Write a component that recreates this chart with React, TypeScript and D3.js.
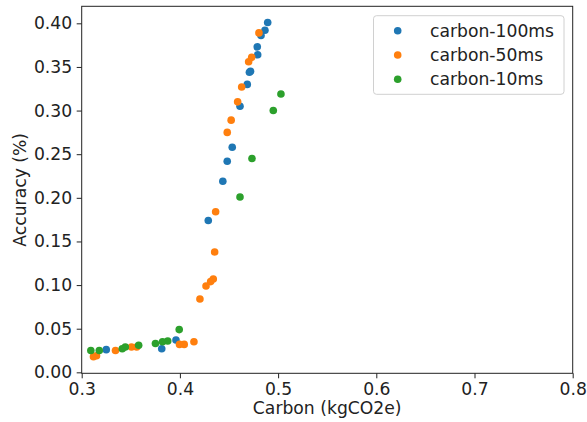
import React, { useEffect, useRef } from 'react';
import * as d3 from 'd3';

const seriesNames = ['carbon-100ms', 'carbon-50ms', 'carbon-10ms'];
const seriesColors = ['#1f77b4', '#ff7f0e', '#2ca02c'];

// carbon (kgCO2e), accuracy
const carbon100X = [0.4894, 0.4866, 0.4826, 0.4788, 0.4792, 0.4719, 0.4708, 0.4686, 0.4612, 0.4533, 0.4482, 0.4437, 0.4289, 0.3815, 0.396, 0.325];
const carbon100Y = [0.401, 0.392, 0.386, 0.373, 0.364, 0.345, 0.344, 0.330, 0.305, 0.258, 0.242, 0.219, 0.174, 0.027, 0.037, 0.026];

const carbon50X = [0.4805, 0.4731, 0.47, 0.4629, 0.4588, 0.4522, 0.4482, 0.4364, 0.4354, 0.434, 0.4313, 0.4266, 0.4204, 0.4143, 0.4044, 0.3996, 0.356, 0.3507, 0.3344, 0.3151, 0.312];
const carbon50Y = [0.389, 0.361, 0.356, 0.327, 0.310, 0.289, 0.275, 0.184, 0.138, 0.107, 0.104, 0.099, 0.084, 0.035, 0.032, 0.032, 0.029, 0.029, 0.025, 0.019, 0.018];

const carbon10X = [0.5029, 0.4951, 0.4734, 0.4612, 0.3993, 0.3876, 0.3823, 0.3751, 0.358, 0.3444, 0.3413, 0.3179, 0.3093];
const carbon10Y = [0.319, 0.300, 0.245, 0.201, 0.049, 0.036, 0.035, 0.033, 0.031, 0.029, 0.027, 0.025, 0.025];

const xTicks = [0.3, 0.4, 0.5, 0.6, 0.7, 0.8];
const yTicks = [0, 0.05, 0.1, 0.15, 0.2, 0.25, 0.3, 0.35, 0.4];

const seriesX = [carbon100X, carbon50X, carbon10X];
const seriesY = [carbon100Y, carbon50Y, carbon10Y];

const W = 587;
const H = 422;
const font = 'DejaVu Sans';
const fs = 17.2;

export default function App() {
  const ref = useRef<SVGSVGElement>(null);

  useEffect(() => {
    const svg = d3.select(ref.current);
    svg.selectAll('*').remove();

    const left = 81.7, right = 572.7, top = 6.3, bottom = 373.3;
    const x = d3.scaleLinear().domain([0.3, 0.8]).range([left, right]);
    const y = d3.scaleLinear().domain([-0.0011, 0.4195]).range([bottom, top]);

    const xAxis = svg.append('g').attr('transform', `translate(0,${bottom})`)
      .call(d3.axisBottom(x).tickValues(xTicks).tickFormat(d3.format('.1f')).tickSize(5).tickPadding(4));
    const yAxis = svg.append('g').attr('transform', `translate(${left},0)`)
      .call(d3.axisLeft(y).tickValues(yTicks).tickFormat(d3.format('.2f')).tickSize(5).tickPadding(4.5));
    [xAxis, yAxis].forEach(a => {
      a.select('.domain').remove();
      a.selectAll('text').attr('font-family', font).attr('font-size', fs).attr('fill', '#222');
      a.selectAll('line').attr('stroke', '#222');
    });
    xAxis.selectAll('text').attr('dy', '0.73em');

    svg.append('rect')
      .attr('x', left).attr('y', top)
      .attr('width', right - left).attr('height', bottom - top)
      .attr('fill', 'none').attr('stroke', '#222').attr('stroke-width', 1);

    seriesNames.forEach((name, i) => {
      const pts = seriesX[i].map((v, j) => [v, seriesY[i][j]]);
      svg.append('g').selectAll('circle').data(pts).enter()
        .append('circle')
        .attr('cx', d => x(d[0]))
        .attr('cy', d => y(d[1]))
        .attr('r', 3.8)
        .attr('fill', seriesColors[i]);
    });

    // legend
    const lg = svg.append('g');
    lg.append('rect')
      .attr('x', 373.5).attr('y', 15.7).attr('width', 190.5).attr('height', 78.6)
      .attr('rx', 3).attr('fill', 'white').attr('fill-opacity', 0.8)
      .attr('stroke', '#d0d0d0');
    seriesNames.forEach((name, i) => {
      const cy = 30.7 + i * 24.3;
      lg.append('circle').attr('cx', 397.7).attr('cy', cy).attr('r', 3.8).attr('fill', seriesColors[i]);
      lg.append('text').attr('x', 430).attr('y', cy).attr('dy', '0.35em')
        .attr('font-family', font).attr('font-size', fs).attr('fill', '#222')
        .text(name);
    });

    svg.append('text')
      .attr('x', (left + right) / 2).attr('y', 414.3)
      .attr('text-anchor', 'middle')
      .attr('font-family', font).attr('font-size', fs).attr('fill', '#222')
      .text('Carbon (kgCO2e)');

    svg.append('text')
      .attr('transform', `translate(25.5,${(top + bottom) / 2}) rotate(-90)`)
      .attr('text-anchor', 'middle')
      .attr('font-family', font).attr('font-size', fs).attr('fill', '#222')
      .text('Accuracy (%)');
  }, []);

  return (
    <svg ref={ref} width={W} height={H} style={{ position: 'absolute', left: 0, top: 0, background: 'white' }} />
  );
}
